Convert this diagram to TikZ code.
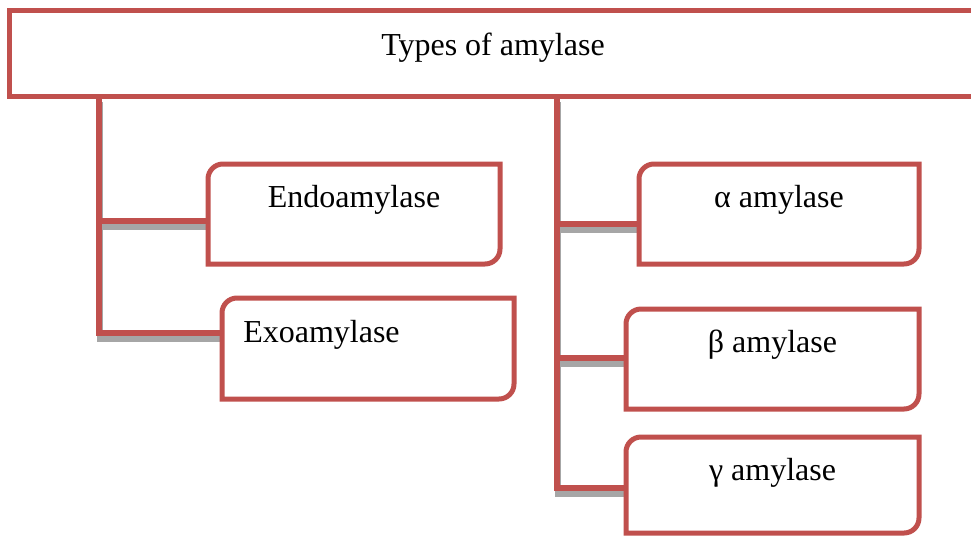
\documentclass[tikz,border=0pt]{standalone}
\usepackage{fontspec}
\setmainfont{Liberation Serif}
\usetikzlibrary{positioning}
\definecolor{amyred}{HTML}{C0504D}

\begin{document}
\begin{tikzpicture}[x=0.75pt,y=-0.75pt,
  typebox/.style={inner sep=0pt, outer sep=0pt},
  boxline/.style={draw=amyred, line width=3.75pt},
  link/.style={draw=amyred, line width=4.5pt},
  linkshadow/.style={draw=gray!70, line width=4.5pt, transform canvas={xshift=0.75pt, yshift=-4.5pt}},
  lbl/.style={font=\fontsize{24}{28}\selectfont, inner sep=0pt}]
\useasboundingbox (0,0) rectangle (971,537);
% boxes
\node[typebox, minimum width=725.25pt, minimum height=64.125pt] (types) at (493,53.25) {};
\node[typebox, minimum width=219pt, minimum height=75pt] (endo) at (354,214) {};
\node[typebox, minimum width=219pt, minimum height=75.75pt] (exo) at (368,348.5) {};
\node[typebox, minimum width=210pt, minimum height=75pt] (alpha) at (779,214) {};
\node[typebox, minimum width=219.75pt, minimum height=75pt] (beta) at (772.5,359) {};
\node[typebox, minimum width=219.75pt, minimum height=72pt] (gamma) at (772.5,485) {};
\coordinate (lstem) at (types.south -| 99,0);
\coordinate (rstem) at (types.south -| 557,0);
% connectors
\draw[linkshadow] (lstem) |- ([yshift=-5.25pt]endo.west);
\draw[linkshadow] (lstem) |- ([yshift=11.625pt]exo.west);
\draw[linkshadow] (rstem) |- ([yshift=-7.5pt]alpha.west);
\draw[linkshadow] (rstem) |- ([yshift=0.75pt]beta.west);
\draw[linkshadow] (rstem) |- ([yshift=-2.25pt]gamma.west);
\draw[link] (lstem) |- ([yshift=-5.25pt]endo.west);
\draw[link] (lstem) |- ([yshift=11.625pt]exo.west);
\draw[link] (rstem) |- ([yshift=-7.5pt]alpha.west);
\draw[link] (rstem) |- ([yshift=0.75pt]beta.west);
\draw[link] (rstem) |- ([yshift=-2.25pt]gamma.west);
% outlines
\draw[boxline, fill=white] (types.south west) rectangle (types.north east);
\draw[boxline] (endo.south west) -- ([yshift=-11.25pt]endo.north west) arc[start angle=180, end angle=270, radius=15] -- (endo.north east) -- ([yshift=11.25pt]endo.south east) arc[start angle=0, end angle=90, radius=15] -- cycle;
\draw[boxline] (exo.south west) -- ([yshift=-11.25pt]exo.north west) arc[start angle=180, end angle=270, radius=15] -- (exo.north east) -- ([yshift=11.25pt]exo.south east) arc[start angle=0, end angle=90, radius=15] -- cycle;
\draw[boxline] (alpha.south west) -- ([yshift=-11.25pt]alpha.north west) arc[start angle=180, end angle=270, radius=15] -- (alpha.north east) -- ([yshift=11.25pt]alpha.south east) arc[start angle=0, end angle=90, radius=15] -- cycle;
\draw[boxline] (beta.south west) -- ([yshift=-11.25pt]beta.north west) arc[start angle=180, end angle=270, radius=15] -- (beta.north east) -- ([yshift=11.25pt]beta.south east) arc[start angle=0, end angle=90, radius=15] -- cycle;
\draw[boxline] (gamma.south west) -- ([yshift=-11.25pt]gamma.north west) arc[start angle=180, end angle=270, radius=15] -- (gamma.north east) -- ([yshift=11.25pt]gamma.south east) arc[start angle=0, end angle=90, radius=15] -- cycle;
% texts
\node[lbl] (typestxt) at ([yshift=-28pt]types.north) {Types of amylase};
\node[lbl] (endotxt) at ([yshift=-27pt]endo.north) {Endoamylase};
\node[lbl, anchor=west] (exotxt) at ([xshift=15.75pt, yshift=-27.75pt]exo.north west) {Exoamylase};
\node[lbl] (alphatxt) at ([yshift=-27pt]alpha.north) {α amylase};
\node[lbl] (betatxt) at ([yshift=-27pt]beta.north) {β amylase};
\node[lbl] (gammatxt) at ([yshift=-27pt]gamma.north) {γ amylase};
\end{tikzpicture}
\end{document}
